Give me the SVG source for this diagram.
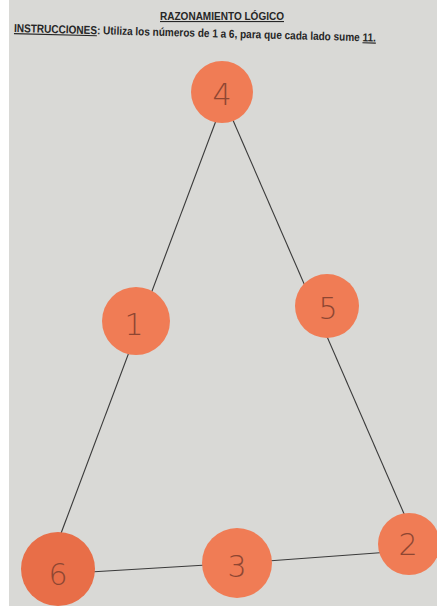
<svg xmlns="http://www.w3.org/2000/svg" width="437" height="606" viewBox="0 0 437 606">
<style>
.bg{fill:#d9d9d6}
.node circle{fill:#f07c55}
.node text{font-family:"DejaVu Sans","Liberation Sans",sans-serif;font-weight:200;font-size:30px;fill:#8e4632;text-anchor:middle;dominant-baseline:central}
.conn line{stroke:#3a3a3a;stroke-width:1.1}
.hdr{font-family:"Liberation Sans",Arial,sans-serif;font-weight:bold;fill:#262626}
</style>
<rect width="437" height="606" fill="#ffffff"/>
<rect class="bg" x="9" y="0" width="428" height="606"/>
<text class="hdr" x="222" y="20" font-size="11" text-anchor="middle" textLength="124" lengthAdjust="spacingAndGlyphs" text-decoration="underline">RAZONAMIENTO LÓGICO</text>
<text class="hdr" x="14" y="32" font-size="11.5" transform="rotate(1.5 14 32)" textLength="362" lengthAdjust="spacingAndGlyphs"><tspan text-decoration="underline">INSTRUCCIONES</tspan>: Utiliza los números de 1 a 6, para que cada lado sume <tspan text-decoration="underline">11.</tspan></text>
<g id="connectors" class="conn">
<line x1="217" y1="118" x2="60" y2="536"/>
<line x1="232" y1="118" x2="405" y2="516"/>
<line x1="90" y1="572" x2="240" y2="563"/>
<line x1="240" y1="563" x2="390" y2="552"/>
</g>
<g id="n4" class="node"><circle cx="222" cy="92" r="31"/><text x="222" y="94">4</text></g>
<g id="n1" class="node"><circle cx="136" cy="321" r="34"/><text x="134" y="324">1</text></g>
<g id="n5" class="node"><circle cx="327" cy="306" r="32"/><text x="328" y="308">5</text></g>
<g id="n6" class="node"><circle cx="58" cy="569" r="37" style="fill:#e86e48"/><text x="58" y="574">6</text></g>
<g id="n3" class="node"><circle cx="237" cy="563" r="35"/><text x="237" y="566">3</text></g>
<g id="n2" class="node"><circle cx="409" cy="544" r="31"/><text x="408" y="544">2</text></g>
</svg>
